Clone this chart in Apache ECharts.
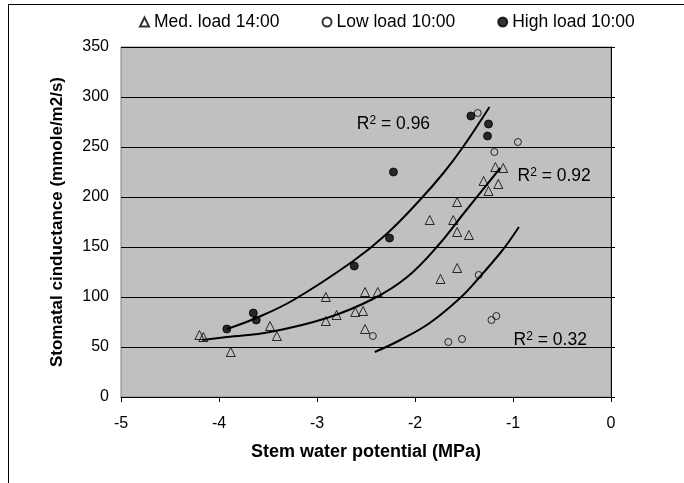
<!DOCTYPE html>
<html><head><meta charset="utf-8">
<script src="https://cdn.jsdelivr.net/npm/echarts@6/dist/echarts.min.js"></script>
<style>html,body{margin:0;padding:0;background:#fff}#c{width:684px;height:483px}</style>
</head><body><div id="c"></div>
<script>
// ---- data ----
const seriesNames = ['Med. load 14:00', 'Low load 10:00', 'High load 10:00'];
const medX = [-4.20,-4.16,-3.88,-3.48,-3.41,-2.91,-2.91,-2.80,-2.61,-2.53,-2.51,-2.38,-2.51,-1.85,-1.74,-1.61,-1.57,-1.57,-1.57,-1.45,-1.30,-1.25,-1.18,-1.15,-1.10];
const medY = [62,60,45,71,61,100,76,82,85,86,105,105,68,177,118,177,195,165,129,162,216,206,230,213,229];
const lowX = [-2.43,-1.66,-1.52,-1.35,-1.22,-1.17,-1.36,-1.19,-0.95];
const lowY = [61,55,58,122,77,81,284,245,255];
const highX = [-3.92,-3.65,-3.62,-2.62,-2.26,-2.22,-1.43,-1.25,-1.26];
const highY = [68,84,77,131,159,225,281,273,261];
// trend lines
const trendHighX = [-3.92,-3.62,-3.24,-2.63,-2.29,-1.95,-1.71,-1.51,-1.24];
const trendHighY = [68,79,97,136,163,197,224,250,290];
const trendMedX = [-4.17,-3.92,-3.48,-2.90,-2.43,-2.08,-1.76,-1.50,-1.13];
const trendMedY = [57,60,65,79,98,120,152,184,229];
const trendLowX = [-2.41,-2.15,-1.85,-1.54,-1.34,-1.13,-1.03,-0.94];
const trendLowY = [45,57,74,99,120,144,157,170];
const r2Labels = ['0.96', '0.92', '0.32'];
const r2X = [-2.22, -0.58, -0.62];
const r2Y = [273, 221, 57];
const xTicks = [-5,-4,-3,-2,-1,0];
const yTicks = [0,50,100,150,200,250,300,350];

const zip = (xs, ys) => xs.map((x, i) => [x, ys[i]]);
const FONT = 'Liberation Sans, Arial, sans-serif';

const chart = echarts.init(document.getElementById('c'), null, {renderer: 'canvas'});

function trend(xs, ys) {
  return {type: 'line', data: zip(xs, ys), smooth: 0.4, showSymbol: false, symbol: 'none',
    lineStyle: {color: '#000', width: 2}, silent: true, z: 3, legendHoverLink: false};
}

const r2Points = r2Labels.map((t, i) => ({
  coord: [r2X[i], r2Y[i]], value: t,
  label: {formatter: '{a|R}{s|2}{a| = ' + t + '}'}
}));

chart.setOption({
  animation: false,
  textStyle: {fontFamily: FONT},
  graphic: [{type: 'rect', shape: {x: 8.5, y: 4.5, width: 800, height: 600},
    style: {fill: 'none', stroke: '#000', lineWidth: 1}, silent: true}],
  grid: {left: 121, right: 73, top: 47, bottom: 86, show: true,
    backgroundColor: '#c0c0c0', borderColor: '#808080', borderWidth: 1},
  legend: {
    data: [
      {name: seriesNames[0], icon: 'triangle'},
      {name: seriesNames[1], icon: 'circle'},
      {name: seriesNames[2], icon: 'circle'}
    ],
    left: 134, top: 8, itemGap: 42, itemWidth: 9, itemHeight: 9,
    textStyle: {fontSize: 17.5, color: '#000', fontFamily: FONT}
  },
  xAxis: {
    type: 'value', min: xTicks[0], max: xTicks[xTicks.length - 1], interval: 1,
    name: 'Stem water potential (MPa)', nameLocation: 'middle', nameGap: 46,
    nameTextStyle: {fontSize: 18, fontWeight: 'bold', color: '#000'},
    axisLine: {show: true, onZero: false, lineStyle: {color: '#000', width: 1}},
    axisTick: {show: true, inside: false, length: 5, lineStyle: {color: '#000'}},
    axisLabel: {fontSize: 16, color: '#000', margin: 19},
    splitLine: {show: false}
  },
  yAxis: [{
    type: 'value', min: yTicks[0], max: yTicks[yTicks.length - 1], interval: 50,
    position: 'left',
    name: 'Stomatal cinductance (mmole/m2/s)', nameLocation: 'middle', nameGap: 55,
    nameTextStyle: {fontSize: 17, fontWeight: 'bold', color: '#000'},
    axisLine: {show: false},
    axisTick: {show: true, length: 4, lineStyle: {color: '#000'}},
    axisLabel: {fontSize: 16, color: '#000', margin: 12},
    splitLine: {show: true, lineStyle: {color: '#000', width: 1}}
  }, {
    type: 'value', min: yTicks[0], max: yTicks[yTicks.length - 1], interval: 50,
    position: 'right',
    axisLine: {show: true, onZero: false, lineStyle: {color: '#000', width: 1}},
    axisTick: {show: true, length: 4, lineStyle: {color: '#000'}},
    axisLabel: {show: false}, splitLine: {show: false}
  }],
  series: [
    {name: seriesNames[0], type: 'scatter', data: zip(medX, medY), symbol: 'triangle', symbolSize: 9,
      itemStyle: {color: 'rgba(0,0,0,0)', borderColor: '#000', borderWidth: 1}, z: 4},
    {name: seriesNames[1], type: 'scatter', data: zip(lowX, lowY), symbol: 'circle', symbolSize: 7,
      itemStyle: {color: 'rgba(0,0,0,0)', borderColor: '#000', borderWidth: 1}, z: 4},
    {name: seriesNames[2], type: 'scatter', data: zip(highX, highY), symbol: 'circle', symbolSize: 8,
      itemStyle: {color: '#000', borderColor: '#000', borderWidth: 1}, z: 4},
    trend(trendHighX, trendHighY),
    trend(trendMedX, trendMedY),
    Object.assign(trend(trendLowX, trendLowY), {
      markPoint: {symbol: 'rect', symbolSize: 1, itemStyle: {color: 'rgba(0,0,0,0)'}, silent: true,
        label: {show: true, position: 'inside', color: '#000',
          rich: {a: {fontSize: 17.5, color: '#000', fontFamily: FONT},
                 s: {fontSize: 12, color: '#000', verticalAlign: 'top', padding: [0,0,7,0], fontFamily: FONT}}},
        data: r2Points}
    })
  ]
});
</script></body></html>
